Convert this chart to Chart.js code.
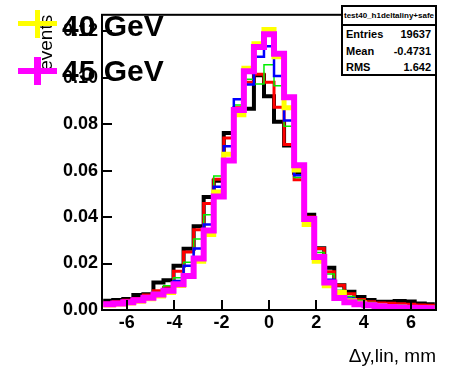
<!DOCTYPE html>
<html>
<head>
<meta charset="utf-8">
<script src="https://cdn.jsdelivr.net/npm/chart.js@4.4.1/dist/chart.umd.min.js"></script>
<style>
  body { margin: 0; background: #fff; }
  #wrap { position: relative; width: 449px; height: 368px; font-family: "Liberation Sans", Arial, sans-serif; }
  #wrap canvas { position: absolute; left: 0; top: 0; }
  .stats { position: absolute; left: 341px; top: 5px; width: 96px; height: 71px; box-sizing: border-box;
           border: 2px solid #000; background: #fff; font-weight: bold; color: #000; }
  .stats .title { position: absolute; left: 0; right: 0; top: 0; height: 17px; line-height: 17px;
                  font-size: 8px; text-align: center; border-bottom: 2px solid #000; }
  .stats .row { position: absolute; left: 3px; right: 4px; height: 16px; line-height: 16px; font-size: 11px; }
  .stats .row span { float: right; }
  .leg { position: absolute; left: 62px; font-size: 30px; font-weight: bold; line-height: 30px; color: #000; white-space: nowrap; }
  .mk { position: absolute; }
</style>
</head>
<body>
<div id="wrap">
  <canvas id="c" width="449" height="368"></canvas>
  <div class="stats">
    <div class="title">test40_h1deltaliny+safe</div>
    <div class="row" style="top:19px">Entries<span>19637</span></div>
    <div class="row" style="top:36px">Mean<span>-0.4731</span></div>
    <div class="row" style="top:52px">RMS<span>1.642</span></div>
  </div>
  <div class="mk" style="left:18px;top:21px;width:39px;height:5px;background:#ffff00"></div>
  <div class="mk" style="left:35px;top:10px;width:5px;height:28px;background:#ffff00"></div>
  <div class="leg" style="top:11px">40 GeV</div>
  <div class="mk" style="left:18px;top:68px;width:39px;height:6px;background:#ff00ff"></div>
  <div class="mk" style="left:34px;top:57px;width:7px;height:28px;background:#ff00ff"></div>
  <div class="leg" style="top:56px">45 GeV</div>
</div>
<script>
// histogram range: 33 bins from -7 to 7
const binLo = -7;
const binHi = 7;

const xTicks = [-6, -4, -2, 0, 2, 4, 6];
const yTicks = [0, 0.02, 0.04, 0.06, 0.08, 0.10, 0.12];

const blackVals = [0.0040, 0.0043, 0.0047, 0.0064, 0.0068, 0.0118, 0.0128, 0.0190, 0.0264, 0.0360, 0.0486,
  0.0556, 0.0761, 0.0855, 0.0866, 0.1010, 0.0920, 0.0810, 0.0708, 0.0590, 0.0410, 0.0266, 0.0182,
  0.0107, 0.0078, 0.0056, 0.0043, 0.0036, 0.0035, 0.0039, 0.0037, 0.0028, 0.0025];
const redVals = [0.0030, 0.0035, 0.0042, 0.0050, 0.0065, 0.0083, 0.0097, 0.0167, 0.0250, 0.0345, 0.0458,
  0.0563, 0.0740, 0.0870, 0.0980, 0.1014, 0.0980, 0.0872, 0.0712, 0.0560, 0.0400, 0.0265, 0.0165,
  0.0106, 0.0070, 0.0045, 0.0036, 0.0030, 0.0029, 0.0027, 0.0025, 0.0022, 0.0020];
const greenVals = [0.0028, 0.0032, 0.0038, 0.0045, 0.0058, 0.0075, 0.0104, 0.0139, 0.0205, 0.0305, 0.0410,
  0.0577, 0.0705, 0.0882, 0.0993, 0.0972, 0.1055, 0.0965, 0.0790, 0.0570, 0.0390, 0.0247, 0.0155,
  0.0085, 0.0058, 0.0042, 0.0032, 0.0027, 0.0023, 0.0020, 0.0018, 0.0016, 0.0015];
const blueVals = [0.0026, 0.0030, 0.0035, 0.0045, 0.0055, 0.0070, 0.0090, 0.0125, 0.0190, 0.0265, 0.0368,
  0.0530, 0.0704, 0.0907, 0.0970, 0.1090, 0.1135, 0.1007, 0.0815, 0.0580, 0.0380, 0.0235, 0.0130,
  0.0075, 0.0050, 0.0035, 0.0028, 0.0023, 0.0020, 0.0018, 0.0016, 0.0014, 0.0013];
const yellowVals = [0.0022, 0.0026, 0.0030, 0.0038, 0.0048, 0.0060, 0.0075, 0.0105, 0.0145, 0.0210, 0.0325,
  0.0508, 0.0670, 0.0840, 0.1040, 0.1145, 0.1207, 0.1090, 0.0870, 0.0602, 0.0368, 0.0210, 0.0104,
  0.0075, 0.0040, 0.0030, 0.0022, 0.0018, 0.0015, 0.0013, 0.0011, 0.0010, 0.0009];
const magentaVals = [0.0025, 0.0028, 0.0033, 0.0042, 0.0053, 0.0067, 0.0083, 0.0111, 0.0146, 0.0222, 0.0342,
  0.0488, 0.0643, 0.0860, 0.1027, 0.1132, 0.1186, 0.1102, 0.0915, 0.0623, 0.0392, 0.0228, 0.0118,
  0.0052, 0.0033, 0.0025, 0.0020, 0.0016, 0.0013, 0.0011, 0.0010, 0.0009, 0.0008];

// bin contents -> step points at the bin edges
function histPoints(vals) {
  const w = (binHi - binLo) / vals.length;
  const pts = vals.map((v, i) => ({ x: binLo + i * w, y: v }));
  pts.push({ x: binHi, y: vals[vals.length - 1] });
  return pts;
}

function hist(vals, color, width) {
  return {
    data: histPoints(vals),
    borderColor: color,
    borderWidth: width,
    stepped: 'before',
    pointRadius: 0,
    fill: false,
    borderJoinStyle: 'miter'
  };
}

// ROOT style frame with inward ticks
const framePlugin = {
  id: 'frame',
  afterDatasetsDraw(chart) {
    const { ctx, chartArea: a, scales: { x, y } } = chart;
    ctx.save();
    ctx.strokeStyle = '#000';
    ctx.lineWidth = 2;
    ctx.beginPath();
    x.ticks.forEach(t => {
      const px = Math.round(x.getPixelForValue(t.value));
      ctx.moveTo(px, a.bottom);
      ctx.lineTo(px, a.bottom - 10);
    });
    y.ticks.forEach(t => {
      const py = Math.round(y.getPixelForValue(t.value));
      ctx.moveTo(a.left, py);
      ctx.lineTo(a.left + 10, py);
    });
    ctx.stroke();
    ctx.strokeRect(a.left, a.top, a.right - a.left, a.bottom - a.top);
    ctx.restore();
  }
};

const tickFont = { family: '"Liberation Sans", Arial, sans-serif', size: 18, weight: 'bold', lineHeight: 1.2 };
const titleFont = { family: '"Liberation Sans", Arial, sans-serif', size: 19, lineHeight: 1.2 };

new Chart(document.getElementById('c').getContext('2d'), {
  type: 'line',
  data: {
    datasets: [
      hist(magentaVals, '#ff00ff', 6),
      hist(yellowVals, '#ffff00', 5),
      hist(blueVals, '#0000ff', 2.5),
      hist(greenVals, '#00ee00', 1.5),
      hist(redVals, '#ff0000', 3),
      hist(blackVals, '#000000', 4)
    ]
  },
  options: {
    responsive: false,
    animation: false,
    layout: { padding: { top: 5, right: 13, left: 0, bottom: 0 } },
    plugins: { legend: { display: false }, tooltip: { enabled: false } },
    scales: {
      x: {
        type: 'linear',
        min: -7.05,
        max: 7.05,
        afterBuildTicks: s => { s.ticks = xTicks.map(v => ({ value: v })); },
        afterFit: s => { s.height = 58; },
        grid: { display: false, drawTicks: false },
        border: { display: false },
        ticks: { font: tickFont, color: '#000', padding: 2, maxRotation: 0, callback: v => String(v) },
        title: { display: true, text: '\u0394y,lin, mm', align: 'end', font: titleFont, color: '#000', padding: { top: 0, bottom: 0 } }
      },
      y: {
        type: 'linear',
        min: 0,
        max: 0.127,
        afterBuildTicks: s => { s.ticks = yTicks.map(v => ({ value: v })); },
        afterFit: s => { s.width = 102; },
        grid: { display: false, drawTicks: false },
        border: { display: false },
        ticks: { font: tickFont, color: '#000', padding: 4, callback: v => v.toFixed(2) },
        title: { display: true, text: 'events', align: 'end', font: titleFont, color: '#000', padding: { top: 35, bottom: 0 } }
      }
    }
  },
  plugins: [framePlugin]
});
</script>
</body>
</html>
